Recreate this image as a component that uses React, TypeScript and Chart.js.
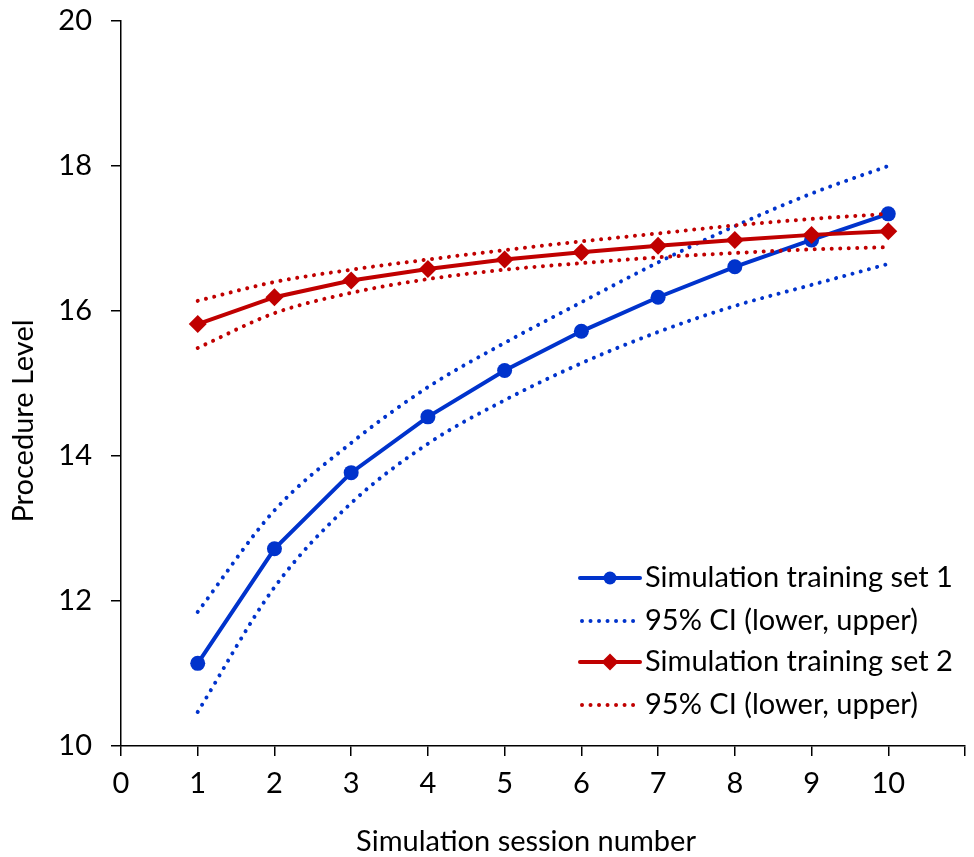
import React, { useEffect, useRef } from "react";
import { Chart, registerables } from "chart.js";

Chart.register(...registerables);

const sessions = [1, 2, 3, 4, 5, 6, 7, 8, 9, 10];
const set1 = [11.14, 12.72, 13.77, 14.54, 15.18, 15.72, 16.19, 16.61, 16.98, 17.34];
const set1Upper = [11.85, 13.25, 14.18, 14.95, 15.56, 16.12, 16.67, 17.17, 17.62, 18.0];
const set1Lower = [10.47, 12.19, 13.35, 14.17, 14.77, 15.28, 15.71, 16.07, 16.36, 16.65];
const set2 = [15.82, 16.19, 16.42, 16.58, 16.71, 16.81, 16.9, 16.98, 17.05, 17.1];
const set2Upper = [16.14, 16.4, 16.57, 16.71, 16.84, 16.96, 17.07, 17.18, 17.27, 17.34];
const set2Lower = [15.49, 15.97, 16.25, 16.44, 16.57, 16.66, 16.74, 16.8, 16.85, 16.88];

const legendLabels = [
  "Simulation training set 1",
  "95% CI (lower, upper)",
  "Simulation training set 2",
  "95% CI (lower, upper)",
];
const xTitle = "Simulation session number";
const yTitle = "Procedure Level";

const BLUE = "#0033CC";
const RED = "#C00000";
const FONT = "Lato, 'Open Sans', sans-serif";
const FS = 29;

const pts = (arr: number[]) => sessions.map((s, i) => ({ x: s, y: arr[i] }));

const legendPlugin = {
  id: "customLegend",
  afterDraw(chart: any) {
    const ctx = chart.ctx;
    const ca = chart.chartArea;
    const x0 = ca.left + 459;
    const x1 = ca.left + 519;
    const tx = ca.left + 524;
    const rows = [ca.top + 557, ca.top + 600, ca.top + 641, ca.top + 684];
    const styles = [
      { color: BLUE, dotted: false, marker: "circle" },
      { color: BLUE, dotted: true, marker: "" },
      { color: RED, dotted: false, marker: "diamond" },
      { color: RED, dotted: true, marker: "" },
    ];
    ctx.save();
    rows.forEach((y, i) => {
      const st = styles[i];
      ctx.strokeStyle = st.color;
      ctx.fillStyle = st.color;
      ctx.lineWidth = 4;
      ctx.lineCap = "round";
      ctx.beginPath();
      if (st.dotted) ctx.setLineDash([0.01, 8.5]);
      else ctx.setLineDash([]);
      ctx.moveTo(x0 + (st.dotted ? 2 : 0), y);
      ctx.lineTo(x1, y);
      ctx.stroke();
      ctx.setLineDash([]);
      const cx = (x0 + x1) / 2;
      if (st.marker === "circle") {
        ctx.beginPath();
        ctx.arc(cx, y, 6.5, 0, Math.PI * 2);
        ctx.fill();
      } else if (st.marker === "diamond") {
        ctx.beginPath();
        ctx.moveTo(cx, y - 8.5);
        ctx.lineTo(cx + 8.5, y);
        ctx.lineTo(cx, y + 8.5);
        ctx.lineTo(cx - 8.5, y);
        ctx.closePath();
        ctx.fill();
      }
      ctx.fillStyle = "#000";
      ctx.font = `${FS}px ${FONT}`;
      ctx.textBaseline = "middle";
      ctx.textAlign = "left";
      ctx.fillText(legendLabels[i], tx, y);
    });

    // axis titles
    ctx.fillStyle = "#000";
    ctx.font = `${FS}px ${FONT}`;
    ctx.textAlign = "center";
    ctx.textBaseline = "middle";
    ctx.fillText(xTitle, ca.left + 405, ca.bottom + 96);
    ctx.translate(ca.left - 97, ca.top + 400);
    ctx.rotate(-Math.PI / 2);
    ctx.fillText(yTitle, 0, 0);
    ctx.restore();
  },
};

export default function App() {
  const ref = useRef<HTMLCanvasElement>(null);
  useEffect(() => {
    document.body.style.margin = "0";
    const ciBase = {
      borderWidth: 4,
      borderDash: [0.01, 8.5],
      borderCapStyle: "round" as const,
      pointRadius: 0,
      cubicInterpolationMode: "monotone" as const,
      fill: false,
    };
    const chart = new Chart(ref.current!, {
      type: "line",
      data: {
        datasets: [
          {
            label: legendLabels[2],
            data: pts(set2),
            borderColor: RED,
            backgroundColor: RED,
            borderWidth: 4,
            pointStyle: "rectRot",
            pointRadius: 9,
            pointBorderWidth: 0,
          },
          { label: "red upper", data: pts(set2Upper), borderColor: RED, ...ciBase },
          { label: "red lower", data: pts(set2Lower), borderColor: RED, ...ciBase },
          {
            label: legendLabels[0],
            data: pts(set1),
            borderColor: BLUE,
            backgroundColor: BLUE,
            borderWidth: 4,
            pointStyle: "circle",
            pointRadius: 7.5,
            pointBorderWidth: 0,
          },
          { label: "blue upper", data: pts(set1Upper), borderColor: BLUE, ...ciBase },
          { label: "blue lower", data: pts(set1Lower), borderColor: BLUE, ...ciBase },
        ],
      },
      options: {
        animation: false,
        responsive: false,
        maintainAspectRatio: false,
        layout: { padding: { left: 0, right: 8, top: 21, bottom: 0 } },
        plugins: { legend: { display: false }, tooltip: { enabled: false } },
        scales: {
          x: {
            type: "linear",
            min: 0,
            max: 11,
            ticks: {
              stepSize: 1,
              color: "#000",
              font: { family: FONT, size: FS },
              padding: 10,
              maxRotation: 0,
              callback: (v: any) => (v === 11 ? "" : String(v)),
            },
            grid: { drawOnChartArea: false, drawTicks: true, tickLength: 10, color: "#000", lineWidth: 1.5 },
            border: { color: "#000", width: 1.5 },
            afterFit: (s: any) => {
              s.height = 111;
              s.paddingLeft = 0;
              s.paddingRight = 0;
            },
          },
          y: {
            min: 10,
            max: 20,
            ticks: {
              stepSize: 2,
              color: "#000",
              font: { family: FONT, size: FS },
              padding: 19,
            },
            grid: { drawOnChartArea: false, drawTicks: true, tickLength: 10, color: "#000", lineWidth: 1.5 },
            border: { color: "#000", width: 1.5 },
            afterFit: (s: any) => {
              s.width = 121;
              s.paddingTop = 0;
              s.paddingBottom = 0;
            },
          },
        },
      },
      plugins: [legendPlugin],
    } as any);
    return () => chart.destroy();
  }, []);
  return <canvas ref={ref} width={974} height={857} style={{ display: "block" }} />;
}
